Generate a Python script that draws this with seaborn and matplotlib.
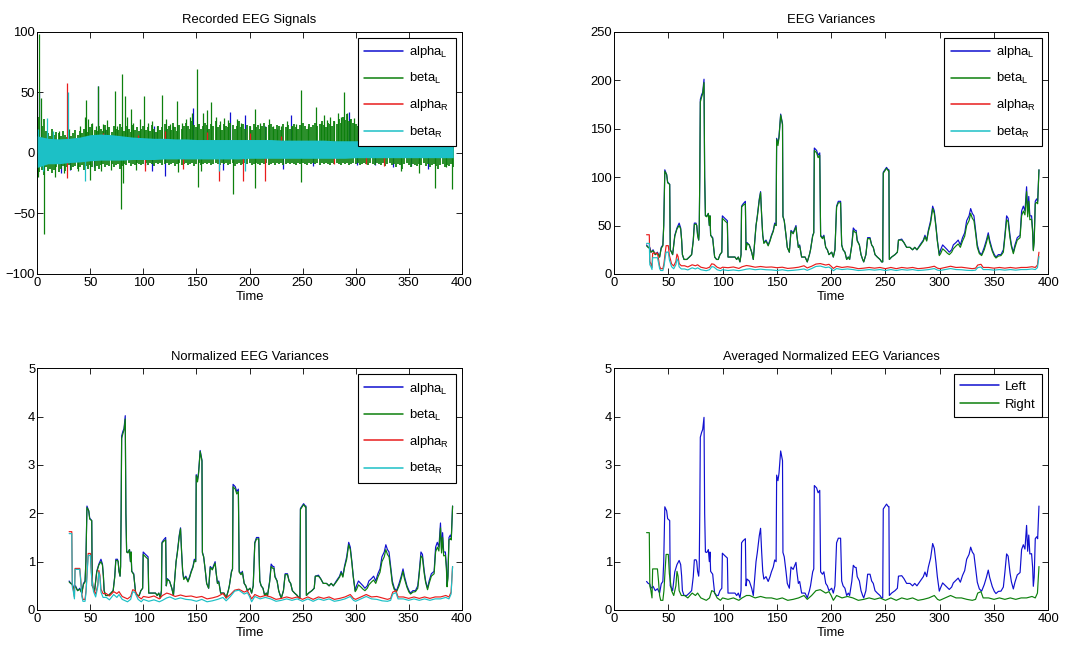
import numpy as np
import matplotlib
matplotlib.use("Agg")
import matplotlib.pyplot as plt
from matplotlib.lines import Line2D
import seaborn as sns

# ---------------------------------------------------------------- data
CHANNELS = ["alpha$_L$", "beta$_L$", "alpha$_R$", "beta$_R$"]
COLORS = ["#1010d0", "#0d800d", "#e81c1c", "#1cc0c6"]

# raw EEG, beta_L: local peak / trough of the signal in 2 s windows (0 .. 392 s)
T_RAW = list(range(0, 393, 2))
BETA_L_PEAK = [45, 30, 22, 28, 18, 16, 14, 20, 15, 17,
               16, 14, 18, 15, 13, 17, 14, 16, 19, 15,
               18, 16, 20, 22, 17, 21, 24, 19, 18, 22,
               20, 18, 23, 19, 21, 17, 22, 20, 19, 24,
               21, 18, 22, 20, 17, 23, 19, 21, 18, 20,
               22, 19, 21, 18, 23, 20, 17, 22, 19, 21,
               24, 20, 22, 19, 25, 21, 18, 23, 20, 22,
               25, 22, 20, 26, 23, 21, 24, 20, 22, 25,
               23, 20, 24, 22, 26, 21, 23, 19, 24, 22,
               21, 25, 23, 20, 22, 26, 21, 24, 20, 23,
               22, 19, 24, 21, 23, 20, 22, 25, 21, 23,
               24, 21, 20, 23, 22, 19, 24, 21, 23, 20,
               22, 24, 21, 20, 23, 25, 22, 20, 24, 21,
               23, 25, 22, 24, 26, 23, 21, 25, 24, 22,
               26, 24, 28, 25, 30, 27, 32, 26, 28, 25,
               24, 22, 20, 18, 17, 16, 15, 14, 14, 13,
               13, 12, 12, 12, 12, 12, 12, 12, 12, 12,
               12, 12, 12, 12, 12, 12, 12, 12, 12, 12,
               12, 12, 12, 12, 12, 12, 12, 12, 12, 12,
               12, 12, 12, 12, 12, 12, 12]
BETA_L_TROUGH = [-20, -16, -14, -18, -12, -15, -13, -17, -14, -12,
                 -16, -13, -11, -15, -12, -10, -14, -12, -11, -13,
                 -12, -10, -14, -11, -13, -10, -12, -15, -11, -13,
                 -10, -9, -12, -10, -11, -9, -12, -10, -9, -13,
                 -11, -9, -10, -8, -11, -9, -10, -8, -9, -10,
                 -9, -8, -10, -8, -9, -11, -8, -9, -8, -10,
                 -9, -8, -10, -9, -8, -11, -9, -8, -10, -9,
                 -8, -10, -9, -8, -11, -9, -8, -10, -9, -8,
                 -9, -8, -10, -9, -8, -9, -10, -8, -9, -8,
                 -10, -9, -8, -11, -9, -8, -10, -9, -8, -9,
                 -8, -10, -9, -8, -9, -10, -8, -9, -8, -10,
                 -9, -8, -10, -8, -9, -8, -10, -9, -8, -9,
                 -8, -9, -10, -8, -9, -8, -9, -10, -8, -9,
                 -8, -9, -8, -10, -8, -9, -8, -9, -10, -8,
                 -9, -8, -9, -10, -8, -9, -8, -10, -9, -8,
                 -9, -8, -10, -9, -8, -9, -10, -8, -9, -10,
                 -8, -9, -10, -8, -11, -9, -8, -10, -9, -12,
                 -9, -10, -13, -9, -8, -10, -12, -9, -10, -11,
                 -9, -10, -8, -11, -9, -12, -10, -9, -11, -13,
                 -10, -9, -12, -10, -11, -9, -12]

# raw EEG, beta_R: envelope of its dense band (10 s steps)
T_ENV = [0, 10, 20, 30, 40, 50, 60, 70, 80, 90, 100, 110, 120, 130, 140, 150,
         160, 170, 180, 190, 200, 210, 220, 230, 240, 250, 260, 270, 280, 290,
         300, 310, 320, 330, 340, 350, 360, 370, 380, 390, 392]
BETA_R_UP = [14, 12, 11.5, 12, 13, 15, 15.5, 15, 14, 13, 12.5, 12, 12, 11.5, 11.5, 11, 11, 11, 11, 11,
             11, 11, 11, 10.5, 10.5, 10.5, 10.5, 10.5, 10, 10, 10, 10, 9.5, 9.5, 9, 9, 9, 9, 9, 9, 9]
BETA_R_LO = [-12, -9, -9, -8, -7.5, -6.5, -6, -6, -6, -5.5, -5.5, -5.5, -5, -5, -5, -5, -5, -5, -5, -5,
             -4.5, -4.5, -4.5, -4.5, -4.5, -4.5, -4.5, -4.5, -4.5, -4.5, -4, -4, -4, -4, -4, -4, -4, -4, -4, -4, -4]

# raw EEG: isolated artefact spikes (time, amplitude)
SPIKES_ALPHA_L = [(1.5, 50), (30.8, -14), (53.7, -12), (57.0, 55), (101.5, -10), (108.5, -15),
                  (120, -19), (147, 37), (182, 34), (196, 31), (215, 22), (232, -13), (239, 31),
                  (294, 34), (301.5, -10), (318, -10), (368, -13), (22, -17), (64, 20), (110, 22),
                  (175, -14), (260, -11), (335, -12), (352, -11)]
SPIKES_BETA_L = [(2.0, 98), (6.4, -67), (3.5, 45), (1.0, -20), (17, -20), (20, 18), (24.7, -17),
                 (30, 20), (38.4, -15), (40, 22), (44.5, 30), (46.0, 44), (48, 28), (50, -22),
                 (52, 25), (55, 22), (57.3, 55), (60, -15), (62, 24), (66, 27), (69, -14),
                 (72.9, 51), (75, 22), (78.7, -46), (79.6, 65), (80.5, -25), (83.0, 47), (85, 30),
                 (88.0, 36), (90, 25), (93, -14), (97, 28), (101.0, 47), (104, 25), (108, 26),
                 (113, 22), (118.0, 48), (121, 28), (125, 24), (128, 22), (132, 43), (132.5, -16),
                 (136, 25), (140, 28), (144, 30), (146, 33), (150.5, 69), (151.5, -28), (154.5, -15),
                 (156, 33), (160, 35), (164, 42), (168, 30), (172, 26), (176, 29), (180, 27),
                 (184.8, -34), (188, 28), (192, 25), (200, 22), (205, 36), (205.5, -29), (210, 25),
                 (218.7, 28), (222, 22), (226, 20), (230, 22), (235, 26), (240, 22), (244, 24),
                 (248.5, 52), (249, -24), (255, 22), (263, 38), (267, 25), (270, 31.6), (273, 27),
                 (276, 30), (280, 26), (283, 33), (286, 30), (289, 50), (291.6, 33), (295, 28),
                 (298.5, 29), (302, 25), (343, -15), (360, -17), (375, -29), (385, -12), (390.6, -30)]
SPIKES_ALPHA_R = [(28.4, 58), (28.4, -21), (101.5, -15), (120, 18), (137, -13), (171, -23),
                  (194, -23), (200, 16), (214.6, -23), (327, -11), (62, 16), (95, 15), (160, 17),
                  (230, 14), (280, -9), (310, -9)]
SPIKES_BETA_R = [(1.0, 20), (5, -15), (9.5, 29), (15, 18), (28.6, 50), (44.5, -23),
                 (171, -15), (196, -15)]

# normalized variances, left hemisphere
T_LEFT = [30.0, 31.5, 33.0, 34.0, 36.0, 38.0, 40.0, 42.0, 43.5, 45.0,
          45.8, 46.8, 48.5, 49.4, 51.3, 51.8, 53.0, 54.0, 56.0, 58.0,
          60.0, 61.4, 62.3, 63.0, 64.5, 67.0, 69.4, 71.5, 73.0, 74.0,
          75.5, 76.2, 77.0, 78.0, 78.5, 79.0, 79.5, 80.7, 81.7, 82.9,
          83.5, 84.2, 85.5, 86.9, 87.8, 88.4, 89.0, 90.9, 91.5, 92.7,
          94.5, 96.0, 97.6, 99.3, 99.8, 102.0, 104.4, 105.0, 107.0, 111.4,
          113.0, 114.5, 116.0, 117.0, 117.5, 119.0, 121.0, 121.6, 122.5, 124.6,
          126.8, 128.3, 130.8, 132.0, 133.8, 135.0, 136.0, 137.0, 138.0, 140.0,
          142.0, 143.7, 145.0, 146.7, 148.0, 149.3, 149.8, 151.0, 152.0, 153.5,
          154.4, 155.2, 155.6, 156.8, 158.4, 159.6, 161.5, 163.0, 165.0, 167.6,
          168.4, 169.8, 171.0, 172.8, 176.0, 178.0, 180.0, 181.0, 183.0, 184.0,
          184.5, 186.6, 188.0, 189.5, 190.3, 192.0, 193.3, 195.0, 196.5, 198.0,
          200.5, 202.0, 203.5, 205.0, 206.6, 208.7, 209.7, 211.0, 212.7, 214.3,
          215.8, 217.0, 219.0, 220.4, 222.0, 223.0, 224.0, 226.0, 227.5, 229.0,
          230.0, 232.0, 233.6, 235.8, 237.3, 238.8, 240.4, 242.5, 245.0, 246.5,
          247.5, 248.0, 251.0, 252.6, 253.2, 253.6, 255.7, 258.8, 261.0, 262.0,
          265.0, 267.0, 269.5, 272.6, 275.0, 277.0, 279.0, 281.8, 284.9, 286.4,
          288.0, 289.5, 291.6, 293.5, 295.0, 296.5, 297.8, 299.6, 300.8, 302.7,
          304.8, 307.0, 308.8, 311.0, 312.5, 315.0, 317.0, 319.0, 321.0, 323.0,
          324.8, 327.0, 328.5, 330.0, 331.5, 333.0, 334.6, 336.5, 338.6, 341.0,
          343.0, 344.7, 346.0, 348.4, 350.3, 351.8, 354.0, 356.4, 358.6, 360.0,
          361.6, 363.0, 364.7, 366.0, 367.8, 369.3, 371.4, 374.0, 375.4, 377.0,
          378.5, 380.0, 381.0, 382.0, 383.0, 384.6, 385.6, 386.2, 387.0, 388.0,
          389.3, 390.2, 391.4]
ALPHA_L_NORM = [0.60, 0.55, 0.55, 0.45, 0.50, 0.40, 0.45, 0.35, 0.55, 0.60,
                1.00, 2.15, 2.05, 1.90, 1.85, 0.50, 0.45, 0.40, 0.80, 0.95,
                1.05, 0.95, 0.70, 0.40, 0.30, 0.30, 0.35, 0.40, 0.70, 1.05,
                1.05, 1.00, 0.80, 0.70, 0.90, 2.00, 3.60, 3.70, 3.75, 4.02,
                2.00, 1.20, 1.20, 1.25, 1.00, 1.20, 0.80, 0.75, 0.60, 0.35,
                0.30, 0.30, 0.40, 0.45, 1.20, 1.15, 1.10, 0.35, 0.35, 0.35,
                0.30, 0.35, 0.25, 0.40, 1.40, 1.45, 1.50, 0.50, 0.65, 0.60,
                0.45, 0.30, 1.00, 1.20, 1.55, 1.70, 1.20, 0.80, 0.65, 0.70,
                0.60, 0.70, 0.80, 0.90, 1.05, 1.00, 2.80, 2.70, 2.85, 3.30,
                3.20, 3.10, 1.20, 1.10, 0.80, 0.55, 0.45, 0.90, 0.85, 1.00,
                0.80, 0.55, 0.60, 0.35, 0.35, 0.25, 0.40, 0.50, 0.80, 0.85,
                2.60, 2.55, 2.45, 2.50, 0.80, 0.75, 0.80, 0.55, 0.50, 0.40,
                0.45, 0.35, 0.50, 1.40, 1.50, 1.50, 0.60, 0.50, 0.45, 0.30,
                0.35, 0.30, 0.60, 0.95, 0.90, 0.90, 0.70, 0.60, 0.40, 0.30,
                0.25, 0.40, 0.75, 0.75, 0.60, 0.55, 0.40, 0.35, 0.30, 0.25,
                0.25, 2.10, 2.20, 2.15, 2.15, 0.30, 0.35, 0.40, 0.45, 0.70,
                0.72, 0.65, 0.55, 0.55, 0.50, 0.55, 0.50, 0.60, 0.70, 0.80,
                0.70, 0.90, 1.10, 1.40, 1.30, 1.00, 0.70, 0.40, 0.50, 0.60,
                0.55, 0.50, 0.45, 0.50, 0.60, 0.65, 0.70, 0.60, 0.75, 0.85,
                1.10, 1.20, 1.35, 1.25, 1.20, 0.90, 0.60, 0.45, 0.40, 0.55,
                0.70, 0.85, 0.70, 0.50, 0.40, 0.35, 0.40, 0.40, 0.50, 0.80,
                1.20, 1.15, 0.80, 0.60, 0.45, 0.60, 0.75, 0.80, 1.30, 1.40,
                1.30, 1.80, 1.25, 1.60, 1.20, 1.20, 0.90, 0.50, 0.70, 1.50,
                1.55, 1.50, 2.15]
BETA_L_NORM = [0.58, 0.55, 0.52, 0.45, 0.48, 0.40, 0.43, 0.35, 0.53, 0.58,
               1.00, 2.12, 2.05, 1.88, 1.85, 0.50, 0.45, 0.40, 0.78, 0.93,
               1.00, 0.93, 0.70, 0.40, 0.30, 0.30, 0.35, 0.40, 0.68, 1.02,
               1.03, 1.00, 0.80, 0.70, 0.90, 2.00, 3.55, 3.65, 3.72, 3.95,
               2.00, 1.20, 1.18, 1.25, 1.00, 1.20, 0.80, 0.73, 0.60, 0.35,
               0.30, 0.30, 0.40, 0.45, 1.15, 1.10, 1.05, 0.35, 0.35, 0.35,
               0.30, 0.35, 0.25, 0.40, 1.38, 1.42, 1.45, 0.50, 0.63, 0.60,
               0.45, 0.30, 1.00, 1.18, 1.52, 1.68, 1.20, 0.80, 0.63, 0.68,
               0.58, 0.68, 0.78, 0.88, 1.02, 1.00, 2.78, 2.65, 2.82, 3.28,
               3.18, 3.08, 1.18, 1.10, 0.80, 0.55, 0.45, 0.88, 0.83, 0.97,
               0.80, 0.55, 0.58, 0.35, 0.35, 0.25, 0.40, 0.50, 0.78, 0.85,
               2.55, 2.50, 2.40, 2.45, 0.78, 0.73, 0.78, 0.55, 0.50, 0.40,
               0.45, 0.35, 0.50, 1.38, 1.47, 1.47, 0.60, 0.50, 0.45, 0.30,
               0.35, 0.30, 0.58, 0.90, 0.86, 0.86, 0.68, 0.60, 0.40, 0.30,
               0.25, 0.40, 0.73, 0.73, 0.60, 0.55, 0.40, 0.35, 0.30, 0.25,
               0.25, 2.08, 2.18, 2.13, 2.13, 0.30, 0.35, 0.40, 0.45, 0.70,
               0.70, 0.65, 0.55, 0.55, 0.50, 0.55, 0.50, 0.58, 0.68, 0.77,
               0.68, 0.87, 1.05, 1.35, 1.25, 0.97, 0.68, 0.38, 0.42, 0.52,
               0.48, 0.43, 0.40, 0.45, 0.52, 0.58, 0.62, 0.55, 0.68, 0.78,
               1.00, 1.10, 1.25, 1.15, 1.10, 0.85, 0.55, 0.42, 0.38, 0.50,
               0.65, 0.80, 0.65, 0.47, 0.37, 0.33, 0.37, 0.38, 0.45, 0.75,
               1.12, 1.08, 0.75, 0.57, 0.42, 0.55, 0.70, 0.75, 1.20, 1.30,
               1.22, 1.70, 1.18, 1.50, 1.12, 1.13, 0.85, 0.48, 0.66, 1.45,
               1.48, 1.45, 2.15]

# normalized variances, right hemisphere
T_RIGHT = [30, 32.5, 33, 34, 35, 35.6, 37.8, 40, 41, 42,
           43, 45, 46, 47, 48, 50, 51, 53, 55, 57,
           58, 59, 60, 62, 65, 68, 72, 75, 77, 80,
           85, 88, 90, 92, 95, 98, 100, 105, 110, 115,
           118, 122, 125, 130, 135, 140, 145, 150, 155, 160,
           165, 170, 175, 178, 182, 186, 190, 195, 198, 200,
           202, 205, 210, 215, 220, 225, 230, 235, 240, 245,
           250, 255, 260, 265, 270, 275, 280, 285, 290, 295,
           298, 300, 305, 310, 315, 320, 325, 330, 333, 335,
           338, 340, 345, 350, 355, 360, 365, 370, 375, 380,
           385, 388, 390, 391.4]
ALPHA_R_NORM = [1.62, 1.62, 0.52, 0.42, 0.27, 0.86, 0.86, 0.86, 0.62, 0.32,
                0.22, 0.22, 0.42, 0.82, 1.17, 1.17, 0.77, 0.42, 0.33, 0.52,
                0.82, 0.72, 0.43, 0.34, 0.34, 0.29, 0.38, 0.34, 0.38, 0.28,
                0.23, 0.28, 0.42, 0.40, 0.28, 0.23, 0.28, 0.26, 0.29, 0.23,
                0.30, 0.35, 0.33, 0.28, 0.31, 0.28, 0.29, 0.26, 0.28, 0.23,
                0.25, 0.28, 0.34, 0.25, 0.32, 0.41, 0.43, 0.37, 0.40, 0.32,
                0.23, 0.32, 0.27, 0.30, 0.27, 0.22, 0.24, 0.27, 0.24, 0.27,
                0.22, 0.27, 0.22, 0.27, 0.24, 0.27, 0.22, 0.24, 0.27, 0.32,
                0.24, 0.22, 0.27, 0.32, 0.27, 0.28, 0.25, 0.22, 0.24, 0.37,
                0.40, 0.27, 0.27, 0.24, 0.27, 0.24, 0.27, 0.24, 0.27, 0.27,
                0.30, 0.27, 0.37, 0.90]
BETA_R_NORM = [1.58, 1.58, 0.48, 0.38, 0.23, 0.84, 0.84, 0.84, 0.58, 0.28,
               0.18, 0.18, 0.38, 0.78, 1.13, 1.13, 0.73, 0.38, 0.27, 0.48,
               0.78, 0.68, 0.37, 0.26, 0.26, 0.21, 0.32, 0.26, 0.32, 0.22,
               0.17, 0.22, 0.38, 0.36, 0.22, 0.17, 0.22, 0.18, 0.21, 0.17,
               0.20, 0.25, 0.27, 0.22, 0.25, 0.22, 0.21, 0.18, 0.22, 0.17,
               0.19, 0.22, 0.26, 0.19, 0.28, 0.39, 0.41, 0.33, 0.36, 0.28,
               0.17, 0.28, 0.23, 0.26, 0.23, 0.18, 0.20, 0.23, 0.20, 0.23,
               0.18, 0.23, 0.18, 0.23, 0.20, 0.23, 0.18, 0.20, 0.23, 0.28,
               0.20, 0.18, 0.23, 0.28, 0.23, 0.22, 0.19, 0.18, 0.20, 0.33,
               0.36, 0.23, 0.23, 0.20, 0.23, 0.20, 0.23, 0.20, 0.23, 0.23,
               0.26, 0.23, 0.33, 0.90]

# resting variance of each channel, used for the normalization
BASELINE_VAR = [50, 50, 25, 20]

X_TICKS = [0, 50, 100, 150, 200, 250, 300, 350, 400]

# ---------------------------------------------------------------- style
sns.set_theme(style="ticks")
FS = 9.4
plt.rcParams.update({
    "font.family": ["Liberation Sans", "DejaVu Sans"],
    "mathtext.default": "regular",
    "font.size": FS,
    "axes.titlesize": FS,
    "axes.labelsize": FS,
    "xtick.labelsize": FS,
    "ytick.labelsize": FS,
    "legend.fontsize": FS,
    "axes.edgecolor": "black",
    "axes.linewidth": 0.7,
    "axes.facecolor": "white",
    "figure.facecolor": "white",
    "xtick.direction": "in",
    "ytick.direction": "in",
    "xtick.top": True,
    "ytick.right": True,
    "xtick.bottom": True,
    "ytick.left": True,
    "xtick.major.size": 4,
    "ytick.major.size": 4,
    "xtick.major.width": 0.6,
    "ytick.major.width": 0.6,
    "xtick.major.pad": 2.5,
    "ytick.major.pad": 1.5,
    "xtick.color": "black",
    "ytick.color": "black",
    "text.color": "black",
    "axes.labelcolor": "black",
})

W, H = 1066, 650
fig = plt.figure(figsize=(W / 100, H / 100), dpi=100)


def px_axes(x0, x1, y0, y1):
    return fig.add_axes([x0 / W, 1 - y1 / H, (x1 - x0) / W, (y1 - y0) / H])


ax_raw = px_axes(37.3, 461.7, 31.7, 274.0)
ax_var = px_axes(614.0, 1048.3, 31.7, 274.0)
ax_norm = px_axes(37.3, 461.7, 368.3, 610.0)
ax_avg = px_axes(614.0, 1048.3, 368.3, 610.0)


def dress(ax, title, ylim, yticks):
    ax.set_xlim(0, 400)
    ax.set_ylim(*ylim)
    ax.set_xticks(X_TICKS)
    ax.set_yticks(yticks)
    ax.set_title(title, pad=6)
    ax.set_xlabel("Time", labelpad=1)
    ax.set_ylabel("")
    for s in ax.spines.values():
        s.set_visible(True)
        s.set_linewidth(0.7)


def legend(ax, handles, labels, spacing, colors):
    leg = ax.legend(handles, labels, loc="upper right", frameon=True, fancybox=False,
                    framealpha=1, edgecolor="black", handlelength=3.0,
                    handletextpad=0.45, labelspacing=spacing, borderpad=0.5,
                    borderaxespad=0.45)
    leg.get_frame().set_linewidth(0.8)
    for line, c in zip(leg.get_lines(), colors):
        line.set_color(c)
        line.set_linewidth(1.1)
    leg.set_zorder(10)
    return leg


lw = 0.85


def spikes(ax, pairs, color, z):
    ax.vlines([p[0] for p in pairs], 0, [p[1] for p in pairs], color=color,
              linewidth=0.9, zorder=z)


# ---- recorded EEG signals (drawn in channel order, later channels on top)
spikes(ax_raw, SPIKES_ALPHA_L, COLORS[0], 1.0)
ax_raw.vlines(T_RAW, BETA_L_TROUGH, BETA_L_PEAK, color=COLORS[1], linewidth=1.25, zorder=1.5)
spikes(ax_raw, SPIKES_BETA_L, COLORS[1], 1.6)
spikes(ax_raw, SPIKES_ALPHA_R, COLORS[2], 2.0)
ax_raw.fill_between(T_ENV, BETA_R_LO, BETA_R_UP, color=COLORS[3], linewidth=0, zorder=3.0)
spikes(ax_raw, SPIKES_BETA_R, COLORS[3], 3.1)
dress(ax_raw, "Recorded EEG Signals", (-100, 100), [-100, -50, 0, 50, 100])
proxies = [Line2D([], [], color=c, linewidth=lw) for c in COLORS]
legend(ax_raw, proxies, CHANNELS, 0.85, COLORS)

# ---- EEG variances and normalized variances
norm_series = [(T_LEFT, ALPHA_L_NORM), (T_LEFT, BETA_L_NORM),
               (T_RIGHT, ALPHA_R_NORM), (T_RIGHT, BETA_R_NORM)]
for (t, v), base, col, lab in zip(norm_series, BASELINE_VAR, COLORS, CHANNELS):
    var = np.asarray(v) * base
    sns.lineplot(x=t, y=var, ax=ax_var, color=col, linewidth=lw, label=lab,
                 estimator=None, sort=False)
    sns.lineplot(x=t, y=v, ax=ax_norm, color=col, linewidth=lw, label=lab,
                 estimator=None, sort=False)
dress(ax_var, "EEG Variances", (0, 250), [0, 50, 100, 150, 200, 250])
dress(ax_norm, "Normalized EEG Variances", (0, 5), [0, 1, 2, 3, 4, 5])
for ax in (ax_var, ax_norm):
    h, l = ax.get_legend_handles_labels()
    legend(ax, h, l, 0.85, COLORS)

# ---- averaged normalized variances per hemisphere
left_avg = (np.asarray(ALPHA_L_NORM) + np.asarray(BETA_L_NORM)) / 2
right_avg = (np.asarray(ALPHA_R_NORM) + np.asarray(BETA_R_NORM)) / 2
sns.lineplot(x=T_LEFT, y=left_avg, ax=ax_avg, color=COLORS[0], linewidth=lw,
             label="Left", estimator=None, sort=False)
sns.lineplot(x=T_RIGHT, y=right_avg, ax=ax_avg, color=COLORS[1], linewidth=lw,
             label="Right", estimator=None, sort=False)
dress(ax_avg, "Averaged Normalized EEG Variances", (0, 5), [0, 1, 2, 3, 4, 5])
h, l = ax_avg.get_legend_handles_labels()
legend(ax_avg, h, l, 0.45, COLORS[:2])

fig.savefig("out.png", dpi=100, facecolor="white")
